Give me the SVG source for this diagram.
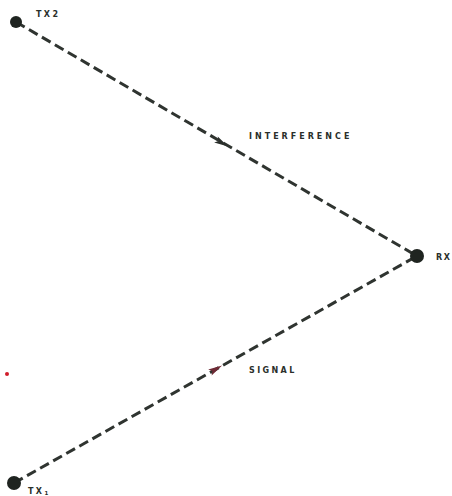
<svg xmlns="http://www.w3.org/2000/svg" width="452" height="496" viewBox="0 0 452 496">
<style>
.ln{stroke:#2f3430;stroke-width:3;stroke-dasharray:10 5;fill:none}
.lbl{font-family:"DejaVu Sans",sans-serif;font-weight:bold;font-size:8px;letter-spacing:2.4px;fill:#2a2f2b}
.node{fill:#1f2420}
</style>
<rect width="452" height="496" fill="#ffffff"/>
<g id="connectors">
<line class="ln" x1="16" y1="22" x2="417" y2="256"/>
<line class="ln" x1="14" y1="483" x2="417" y2="256"/>
<polygon points="-7,-3.5 7,0 -7,3.5 -4,0" fill="#2a2f2b" transform="translate(222,143) rotate(30.3)"/>
<polygon points="-7,-3.5 7,0 -7,3.5 -4,0" fill="#6e2a35" transform="translate(216,369) rotate(-29.4)"/>
</g>
<g id="tx2">
<circle class="node" cx="16" cy="22" r="6"/>
<text class="lbl" x="36" y="17">TX2</text>
</g>
<g id="rx">
<circle class="node" cx="417" cy="256" r="7"/>
<text class="lbl" x="436" y="260" style="letter-spacing:1.5px">RX</text>
</g>
<g id="tx1">
<circle class="node" cx="14" cy="483" r="7"/>
<text class="lbl" x="28" y="494">TX<tspan font-size="5.5" dy="1">1</tspan></text>
</g>
<g id="interference">
<text class="lbl" x="249" y="139" style="letter-spacing:3px">INTERFERENCE</text>
</g>
<g id="signal">
<text class="lbl" x="249" y="373">SIGNAL</text>
</g>
<circle cx="7" cy="374" r="2" fill="#d01c2a"/>
</svg>
